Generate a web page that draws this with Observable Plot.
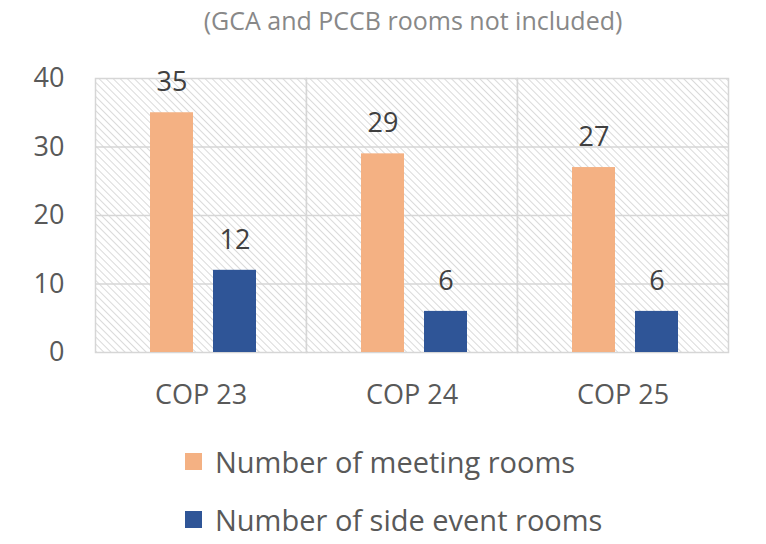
<!DOCTYPE html>
<html>
<head>
<meta charset="utf-8">
<script src="https://cdn.jsdelivr.net/npm/d3@7"></script>
<script src="https://cdn.jsdelivr.net/npm/@observablehq/plot@0.6"></script>
<style>
  body { margin: 0; background: #fff; font-family: "Open Sans", sans-serif; width: 766px; }
  #subtitle { height: 44px; line-height: 40px; text-align: center; font-size: 25px; color: #888; padding-left: 60px; box-sizing: border-box; }
  #legend { margin-top: 8px; padding-left: 185px; }
  .row { height: 58px; display: flex; align-items: center; font-size: 29px; color: #595959; }
  .sw { width: 17px; height: 17px; margin-right: 13px; flex: none; }
</style>
</head>
<body>
<div id="subtitle">(GCA and PCCB rooms not included)</div>
<div id="chart"></div>
<div id="legend"></div>
<script>
const categories = ["COP 23", "COP 24", "COP 25"];
const meetingRooms = [35, 29, 27];
const sideEventRooms = [12, 6, 6];
const seriesNames = ["Number of meeting rooms", "Number of side event rooms"];
const seriesColors = ["#F4B183", "#2F5597"];
const yTicks = [0, 10, 20, 30, 40];

const rows = [];
categories.forEach((c, i) => {
  rows.push({cop: c, series: seriesNames[0], value: meetingRooms[i]});
  rows.push({cop: c, series: seriesNames[1], value: sideEventRooms[i]});
});

const svg = Plot.plot({
  width: 766,
  height: 380,
  marginLeft: 95,
  marginRight: 38,
  marginTop: 34,
  marginBottom: 72,
  style: {fontSize: "27px", fontFamily: "Open Sans, sans-serif", color: "#595959", background: "transparent"},
  fx: {domain: categories, padding: 0, label: null, axis: "bottom", tickSize: 0, tickPadding: 32},
  x: {domain: seriesNames, paddingInner: 0.32, paddingOuter: 0.83, align: 0.52, axis: null},
  y: {domain: [0, 40], ticks: yTicks, tickSize: 0, tickPadding: 31, label: null},
  color: {domain: seriesNames, range: seriesColors},
  marks: [
    Plot.frame({fill: "url(#hatch)", stroke: "#d6d6d6", strokeWidth: 1.5}),
    Plot.ruleY(yTicks.slice(1, -1), {stroke: "#d6d6d6", strokeWidth: 1.5}),
    Plot.barY(rows, {fx: "cop", x: "series", y: "value", fill: "series"}),
    Plot.text(rows, {fx: "cop", x: "series", y: "value", text: d => String(d.value), dy: -30, fill: "#404040", fontSize: 27})
  ]
});

const defs = d3.select(svg).insert("defs", ":first-child");
const pat = defs.append("pattern")
  .attr("id", "hatch")
  .attr("patternUnits", "userSpaceOnUse")
  .attr("width", 5).attr("height", 5)
  .attr("patternTransform", "rotate(-45)");
pat.append("rect").attr("width", 5).attr("height", 5).attr("fill", "#ffffff");
pat.append("line").attr("x1", 0).attr("y1", 0).attr("x2", 0).attr("y2", 5)
  .attr("stroke", "#c6c6c6").attr("stroke-width", 1.3);

document.getElementById("chart").appendChild(svg);

const legend = d3.select("#legend");
seriesNames.forEach((s, i) => {
  const r = legend.append("div").attr("class", "row");
  r.append("div").attr("class", "sw").style("background", seriesColors[i]);
  r.append("span").text(s);
});
</script>
</body>
</html>
